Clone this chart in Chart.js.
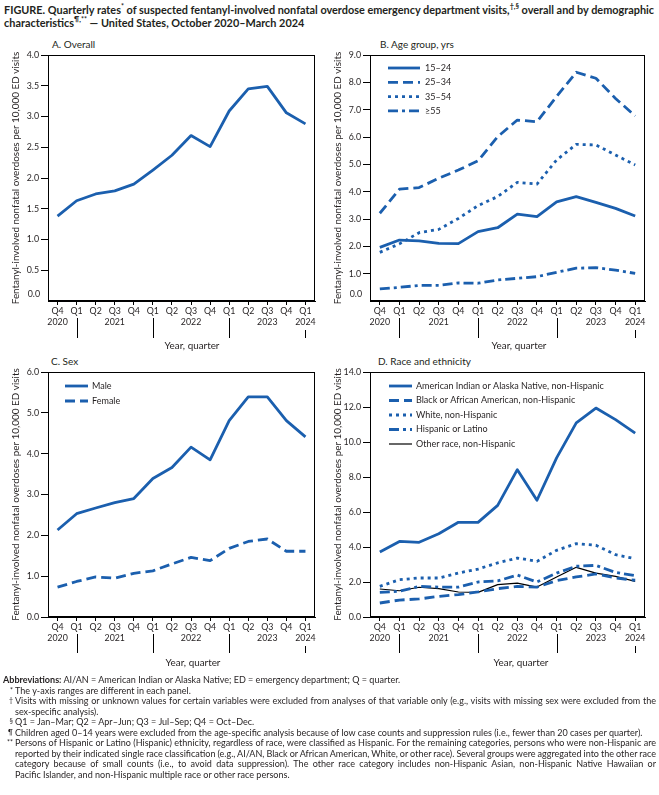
<!DOCTYPE html>
<html>
<head>
<meta charset="utf-8">
<script src="https://cdn.jsdelivr.net/npm/chart.js@4.4.1/dist/chart.umd.min.js"></script>
<style>
  body { margin: 0; background: #fff; }
  #page { position: relative; width: 659px; height: 795px; overflow: hidden;
          font-family: Lato, "Liberation Sans", sans-serif; color: #231f20; }
  .t { position: absolute; white-space: nowrap; }
  canvas { position: absolute; }
  .ttl { left: 4px; font-weight: bold; font-size: 11px; line-height: 13px; }
  .pan { font-size: 11px; line-height: 13px; }
  .xt { font-size: 10.5px; line-height: 12px; }
  .fn { position: absolute; font-size: 9.3px; line-height: 10.5px; white-space: nowrap; }
  .mk { position: absolute; font-size: 7px; line-height: 8px; text-align: right; width: 13px; left: 0; }
  sup { font-size: 0.65em; line-height: 0; }
</style>
</head>
<body>
<div id="page">
  <div id="t1" class="t ttl" style="top:3px">FIGURE. Quarterly rates<sup>*</sup> of suspected fentanyl-involved nonfatal overdose emergency department visits,<sup>†,§</sup> overall and by demographic</div>
  <div id="t2" class="t ttl" style="top:16px">characteristics<sup>¶,**</sup> — United States, October 2020–March 2024</div>

  <div class="t pan" style="left:52px;top:38px">A. Overall</div>
  <div class="t pan" style="left:380px;top:38px">B. Age group, yrs</div>
  <div class="t pan" style="left:51px;top:355px">C. Sex</div>
  <div id="pD" class="t pan" style="left:378px;top:355px">D. Race and ethnicity</div>

  <canvas id="cA" width="330" height="300" style="left:0;top:45px"></canvas>
  <canvas id="cB" width="329" height="300" style="left:330px;top:45px"></canvas>
  <canvas id="cC" width="330" height="300" style="left:0;top:362px"></canvas>
  <canvas id="cD" width="329" height="300" style="left:330px;top:362px"></canvas>

  <div class="t xt" data-cx="192" style="top:339px">Year, quarter</div>
  <div class="t xt" data-cx="519" style="top:339px">Year, quarter</div>
  <div class="t xt" data-cx="193" style="top:656px">Year, quarter</div>
  <div class="t xt" data-cx="521" style="top:656px">Year, quarter</div>

  <div class="fn" style="left:3px;top:675px"><b>Abbreviations:</b> AI/AN = American Indian or Alaska Native; ED = emergency department; Q = quarter.</div>
  <div class="mk" style="top:686px">*</div>
  <div class="fn" style="left:15px;top:686px">The y-axis ranges are different in each panel.</div>
  <div class="mk" style="top:696px">†</div>
  <div class="fn j" style="left:15px;top:696px">Visits with missing or unknown values for certain variables were excluded from analyses of that variable only (e.g., visits with missing sex were excluded from the</div>
  <div class="fn" style="left:15px;top:707px">sex-specific analysis).</div>
  <div class="mk" style="top:717px">§</div>
  <div class="fn" style="left:15px;top:717px">Q1 = Jan–Mar; Q2 = Apr–Jun; Q3 = Jul–Sep; Q4 = Oct–Dec.</div>
  <div class="mk" style="top:728px">¶</div>
  <div id="fref" class="fn" style="left:15px;top:728px">Children aged 0–14 years were excluded from the age-specific analysis because of low case counts and suppression rules (i.e., fewer than 20 cases per quarter).</div>
  <div class="mk" style="top:738px">**</div>
  <div class="fn j" style="left:15px;top:738px">Persons of Hispanic or Latino (Hispanic) ethnicity, regardless of race, were classified as Hispanic. For the remaining categories, persons who were non-Hispanic are</div>
  <div class="fn j" style="left:15px;top:749px">reported by their indicated single race classification (e.g., AI/AN, Black or African American, White, or other race). Several groups were aggregated into the other race</div>
  <div class="fn j" style="left:15px;top:759px">category because of small counts (i.e., to avoid data suppression). The other race category includes non-Hispanic Asian, non-Hispanic Native Hawaiian or</div>
  <div class="fn" style="left:15px;top:770px">Pacific Islander, and non-Hispanic multiple race or other race persons.</div>
</div>

<script>
// quarters Q4 2020 .. Q1 2024
var quarters = ['Q4','Q1','Q2','Q3','Q4','Q1','Q2','Q3','Q4','Q1','Q2','Q3','Q4','Q1'];
var yearRow  = ['2020','','','2021','','','','2022','','','','2023','','2024'];

// A. Overall
var overall = [1.38,1.63,1.74,1.79,1.90,2.13,2.37,2.69,2.51,3.09,3.45,3.49,3.06,2.88];

// B. Age group
var ageLabels = ['15–24','25–34','35–54','≥55'];
var age15to24 = [1.96,2.23,2.20,2.11,2.10,2.54,2.68,3.18,3.09,3.63,3.82,3.61,3.39,3.11];
var age25to34 = [3.21,4.09,4.15,4.49,4.79,5.13,6.01,6.62,6.56,7.48,8.37,8.15,7.41,6.77];
var age35to54 = [1.78,2.09,2.50,2.62,3.02,3.49,3.82,4.34,4.28,5.16,5.73,5.71,5.34,4.98];
var age55up   = [0.44,0.50,0.57,0.57,0.66,0.65,0.77,0.83,0.89,1.05,1.20,1.22,1.13,1.01];

// C. Sex
var sexLabels = ['Male','Female'];
var male   = [2.13,2.53,2.67,2.80,2.90,3.39,3.66,4.16,3.85,4.81,5.39,5.39,4.81,4.41];
var female = [0.73,0.87,0.98,0.95,1.07,1.13,1.30,1.46,1.38,1.68,1.85,1.91,1.61,1.61];

// D. Race and ethnicity
var raceLabels = ['American Indian or Alaska Native, non-Hispanic','Black or African American, non-Hispanic',
                  'White, non-Hispanic','Hispanic or Latino','Other race, non-Hispanic'];
var aian     = [3.71,4.32,4.27,4.76,5.41,5.41,6.38,8.42,6.67,9.09,11.09,11.94,11.28,10.51];
var black    = [0.80,0.97,1.03,1.18,1.28,1.43,1.62,1.75,1.71,2.08,2.29,2.46,2.23,2.10];
var white    = [1.75,2.13,2.23,2.23,2.51,2.74,3.09,3.37,3.18,3.81,4.19,4.10,3.56,3.33];
var hispanic = [1.41,1.47,1.75,1.71,1.71,2.00,2.06,2.40,2.00,2.51,2.90,2.95,2.55,2.36];
var other    = [1.60,1.50,1.70,1.62,1.43,1.41,1.85,1.94,1.71,2.29,2.84,2.51,2.32,2.04];

var FONT = 'Lato, "Liberation Sans", sans-serif';
var BLUE = '#1b5fae';
var TXT = '#231f20';
var SOLID = [], DASH = [10, 5], DOT = [3, 4], DASHDOT = [10, 4, 3, 4];
var YTITLE = 'Fentanyl-involved nonfatal overdoses per 10,000 ED visits';

// font size that makes a text a given width
var mctx = document.createElement('canvas').getContext('2d');
function sizeFor(text, width, weight) {
    mctx.font = (weight || '') + ' 100px ' + FONT;
    return 100 * width / mctx.measureText(text).width;
}
var tickSize = sizeFor('2020', 20.5);
var titleSize = sizeFor(YTITLE, 253);
var legendSize = sizeFor(raceLabels[0], 188);

// html text fitting
function fitEl(el, width) {
    var fs = parseFloat(getComputedStyle(el).fontSize);
    el.style.fontSize = (fs * width / el.getBoundingClientRect().width) + 'px';
}
fitEl(document.getElementById('t1'), 651);
document.getElementById('t2').style.fontSize = document.getElementById('t1').style.fontSize;
fitEl(document.getElementById('pD'), 93);
document.querySelectorAll('.pan').forEach(function(e) { e.style.fontSize = document.getElementById('pD').style.fontSize; });
document.querySelectorAll('.xt').forEach(function(e) {
    fitEl(e, 55);
    e.style.left = (+e.dataset.cx - 27.5) + 'px';
});
fitEl(document.getElementById('fref'), 628);
var fnSize = document.getElementById('fref').style.fontSize;
document.querySelectorAll('.fn').forEach(function(e) { e.style.fontSize = fnSize; });
document.querySelectorAll('.fn.j').forEach(function(e) {
    var w = e.getBoundingClientRect().width;
    var n = (e.textContent.match(/ /g) || []).length;
    e.style.wordSpacing = ((641 - w) / n) + 'px';
});

Chart.defaults.font.family = FONT;
Chart.defaults.color = TXT;

function line(label, data, dash, color, width) {
    return {
        label: label, data: data,
        borderColor: color || BLUE, borderWidth: width || 2.8, borderDash: dash,
        pointRadius: 0, tension: 0, fill: false, borderJoinStyle: 'round'
    };
}

// frame, year separators, zero label and the in-plot legend
var panelDecor = {
    id: 'panelDecor',
    afterDraw: function(chart, args, o) {
        var ctx = chart.ctx, a = chart.chartArea, x = chart.scales.x;
        ctx.save();
        ctx.strokeStyle = '#000';
        ctx.lineWidth = 1;
        ctx.setLineDash([]);
        ctx.strokeRect(Math.round(a.left) + 0.5, Math.round(a.top) + 0.5,
                       Math.round(a.right - a.left) - 1, Math.round(a.bottom - a.top) - 1);
        ctx.beginPath();
        quarters.forEach(function(q, i) {
            if (q !== 'Q1') return;
            var px = Math.round(x.getPixelForValue(i)) + 0.5;
            ctx.moveTo(px, a.bottom + (yearRow[i] ? o.sepYear : o.sepStart));
            ctx.lineTo(px, a.bottom + o.sepEnd);
        });
        ctx.stroke();

        ctx.fillStyle = TXT;
        if (o.zeroShift) {
            ctx.font = tickSize + 'px ' + FONT;
            ctx.textAlign = 'right';
            ctx.textBaseline = 'middle';
            ctx.fillText('0.0', a.left - 8, a.bottom - 7);
        }

        if (o.legend) {
            var L = o.legend;
            ctx.font = legendSize + 'px ' + FONT;
            ctx.textAlign = 'left';
            ctx.textBaseline = 'middle';
            chart.data.datasets.forEach(function(ds, i) {
                var y = a.top + L.y0 + i * L.dy;
                ctx.beginPath();
                ctx.setLineDash(ds.borderDash || []);
                ctx.lineWidth = ds.borderWidth;
                ctx.strokeStyle = ds.borderColor;
                ctx.moveTo(a.left + L.x0, y);
                ctx.lineTo(a.left + L.x1, y);
                ctx.stroke();
                ctx.setLineDash([]);
                ctx.fillText(ds.label, a.left + L.tx, y);
            });
        }
        ctx.restore();
    }
};

function makeChart(id, datasets, yMax, yStep, s) {
    return new Chart(document.getElementById(id), {
        type: 'line',
        data: {
            labels: quarters.map(function(q, i) { return [q, yearRow[i]]; }),
            datasets: datasets
        },
        options: {
            responsive: false,
            animation: false,
            events: [],
            layout: { padding: { top: 10, right: s.padR, left: 0, bottom: 0 } },
            plugins: {
                legend: { display: false },
                tooltip: { enabled: false },
                panelDecor: { zeroShift: s.zeroShift, legend: s.legend, sepStart: s.sepStart, sepYear: s.sepYear, sepEnd: s.sepEnd }
            },
            scales: {
                x: {
                    offset: true,
                    grid: { offset: false, drawOnChartArea: false, tickLength: 4, color: '#000' },
                    border: { color: '#000', width: 1 },
                    ticks: { autoSkip: false, maxRotation: 0, padding: 0, color: TXT, font: { size: tickSize, lineHeight: 1.3 } },
                    afterFit: function(sc) { sc.height = s.xH; }
                },
                y: {
                    min: 0, max: yMax,
                    grid: {
                        drawOnChartArea: false, tickLength: 7,
                        color: function(c) { return (s.zeroShift && c.tick && c.tick.value === 0) ? 'rgba(0,0,0,0)' : '#000'; }
                    },
                    border: { color: '#000', width: 1 },
                    ticks: {
                        stepSize: yStep, padding: 2, color: TXT, font: { size: tickSize },
                        callback: function(v) { return (s.zeroShift && v === 0) ? '' : v.toFixed(1); }
                    },
                    title: {
                        display: true, text: YTITLE,
                        color: TXT, font: { size: titleSize }, padding: { top: s.titleTop, bottom: 0 }
                    },
                    afterFit: function(sc) { sc.width = s.yW; }
                }
            }
        },
        plugins: [panelDecor]
    });
}

makeChart('cA', [line('Overall', overall, SOLID)], 4, 0.5,
    { padR: 15, yW: 48, xH: 44, titleTop: 10, zeroShift: true, sepStart: 17, sepYear: 29, sepEnd: 37 });

makeChart('cB', [
    line(ageLabels[0], age15to24, SOLID),
    line(ageLabels[1], age25to34, DASH),
    line(ageLabels[2], age35to54, DOT),
    line(ageLabels[3], age55up, DASHDOT)
], 9, 1,
    { padR: 14, yW: 40, xH: 44, titleTop: 2, zeroShift: true, sepStart: 17, sepYear: 29, sepEnd: 37,
      legend: { x0: 18, x1: 50, tx: 55, y0: 13, dy: 14.3 } });

makeChart('cC', [
    line(sexLabels[0], male, SOLID),
    line(sexLabels[1], female, DASH)
], 6, 1,
    { padR: 15, yW: 48, xH: 45, titleTop: 10, zeroShift: false, sepStart: 17, sepYear: 29, sepEnd: 36,
      legend: { x0: 17, x1: 40, tx: 44, y0: 14, dy: 15 } });

makeChart('cD', [
    line(raceLabels[0], aian, SOLID),
    line(raceLabels[1], black, DASH),
    line(raceLabels[2], white, DOT),
    line(raceLabels[3], hispanic, DASHDOT),
    line(raceLabels[4], other, SOLID, '#000', 1.2)
], 14, 2,
    { padR: 14, yW: 40, xH: 45, titleTop: 2, zeroShift: false, sepStart: 17, sepYear: 29, sepEnd: 36,
      legend: { x0: 19, x1: 42, tx: 46, y0: 14, dy: 14.5 } });
</script>
</body>
</html>
